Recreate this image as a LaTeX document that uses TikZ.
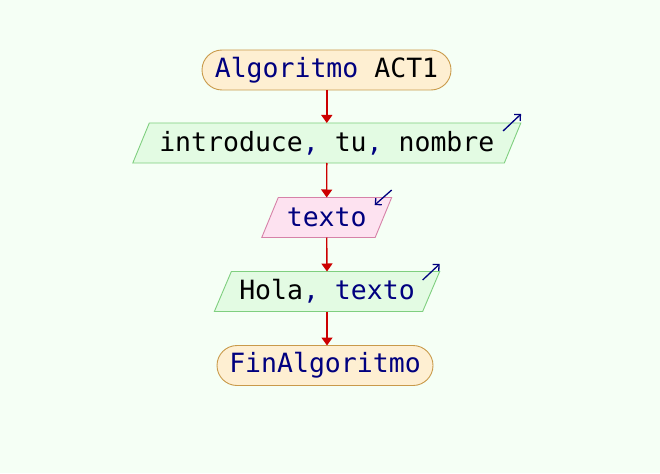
\documentclass[tikz,border=0pt]{standalone}
\usepackage{fontspec}
\newfontfamily\codefont{DejaVu Sans Mono}
\usetikzlibrary{shapes.misc,arrows.meta,backgrounds}

\definecolor{bgcol}{HTML}{F5FFF5}
\definecolor{kw}{HTML}{00007F}
\definecolor{flow}{HTML}{CC0000}
\definecolor{termfill}{HTML}{FEEFD2}
\definecolor{termdraw}{HTML}{C99A4A}
\definecolor{outfill}{HTML}{E3FBE3}
\definecolor{outdraw}{HTML}{7FCF7F}
\definecolor{infill}{HTML}{FDE2F0}
\definecolor{indraw}{HTML}{D682A8}

\tikzset{
  txt/.style={font=\codefont\fontsize{26.5}{30}\selectfont, text=black, inner sep=0pt, outer sep=0pt},
  terminal/.style={txt, rounded rectangle, fill=termfill, draw=termdraw, line width=0.9pt, minimum height=40pt},
  iobody/.style={txt, rectangle, minimum height=40pt},
  flowline/.style={flow, line width=1.4pt, -{Triangle[length=8pt,width=11pt]}},
  ioarrow/.style={kw, line width=1.3pt, -{Straight Barb[length=4.5pt,width=9pt]}},
  outshape/.style={fill=outfill, draw=outdraw, line width=0.9pt},
  inshape/.style={fill=infill, draw=indraw, line width=0.9pt}
}
\newcommand{\kwc}[1]{\textcolor{kw}{#1}}

\begin{document}
\begin{tikzpicture}
  \useasboundingbox (0,0) rectangle (660pt,-473pt);

  % blocks
  \node[terminal, minimum width=249pt] (start) at (326.5pt,-70pt) {\kwc{Algoritmo} ACT1};
  \node[iobody, minimum width=371.5pt] (p1) at (326.8pt,-143pt) {introduce\kwc{,} tu\kwc{,} nombre};
  \node[iobody, minimum width=113.4pt] (p2) at (326.7pt,-217.5pt) {\kwc{texto}};
  \node[iobody, minimum width=208.3pt] (p3) at (327pt,-291.5pt) {Hola\kwc{,} \kwc{texto}};
  \node[terminal, minimum width=216pt] (end) at (325pt,-365.5pt) {\kwc{FinAlgoritmo}};

  % page colour and parallelogram outlines behind the texts
  \begin{scope}[on background layer]
    \fill[bgcol] (0,0) rectangle (660pt,-473pt);
    \draw[outshape] ([xshift=8.25pt]p1.north west) -- ([xshift=8.25pt]p1.north east)
      -- ([xshift=-8.25pt]p1.south east) -- ([xshift=-8.25pt]p1.south west) -- cycle;
    \draw[inshape] ([xshift=8.25pt]p2.north west) -- ([xshift=8.25pt]p2.north east)
      -- ([xshift=-8.25pt]p2.south east) -- ([xshift=-8.25pt]p2.south west) -- cycle;
    \draw[outshape] ([xshift=8.5pt]p3.north west) -- ([xshift=8.5pt]p3.north east)
      -- ([xshift=-8.5pt]p3.south east) -- ([xshift=-8.5pt]p3.south west) -- cycle;
  \end{scope}

  % input / output markers
  \coordinate (o1a) at ([shift={(-9.5pt,-8pt)}]p1.north east);
  \coordinate (o1b) at ([shift={(8.5pt,9pt)}]p1.north east);
  \draw[ioarrow] (o1a) -- (o1b);
  \coordinate (i2a) at ([shift={(8.3pt,7.5pt)}]p2.north east);
  \coordinate (i2b) at ([shift={(-8.7pt,-7.5pt)}]p2.north east);
  \draw[ioarrow] (i2a) -- (i2b);
  \coordinate (o3a) at ([shift={(-8.5pt,-8.5pt)}]p3.north east);
  \coordinate (o3b) at ([shift={(8.5pt,7.5pt)}]p3.north east);
  \draw[ioarrow] (o3a) -- (o3b);

  % flow
  \draw[flowline] (start.south -| p1.north) -- (p1.north);
  \draw[flowline] (p1.south) -- (p2.north);
  \draw[flowline] (p2.south) -- (p3.north);
  \draw[flowline] (p3.south) -- (p3.south |- end.north);
\end{tikzpicture}
\end{document}
